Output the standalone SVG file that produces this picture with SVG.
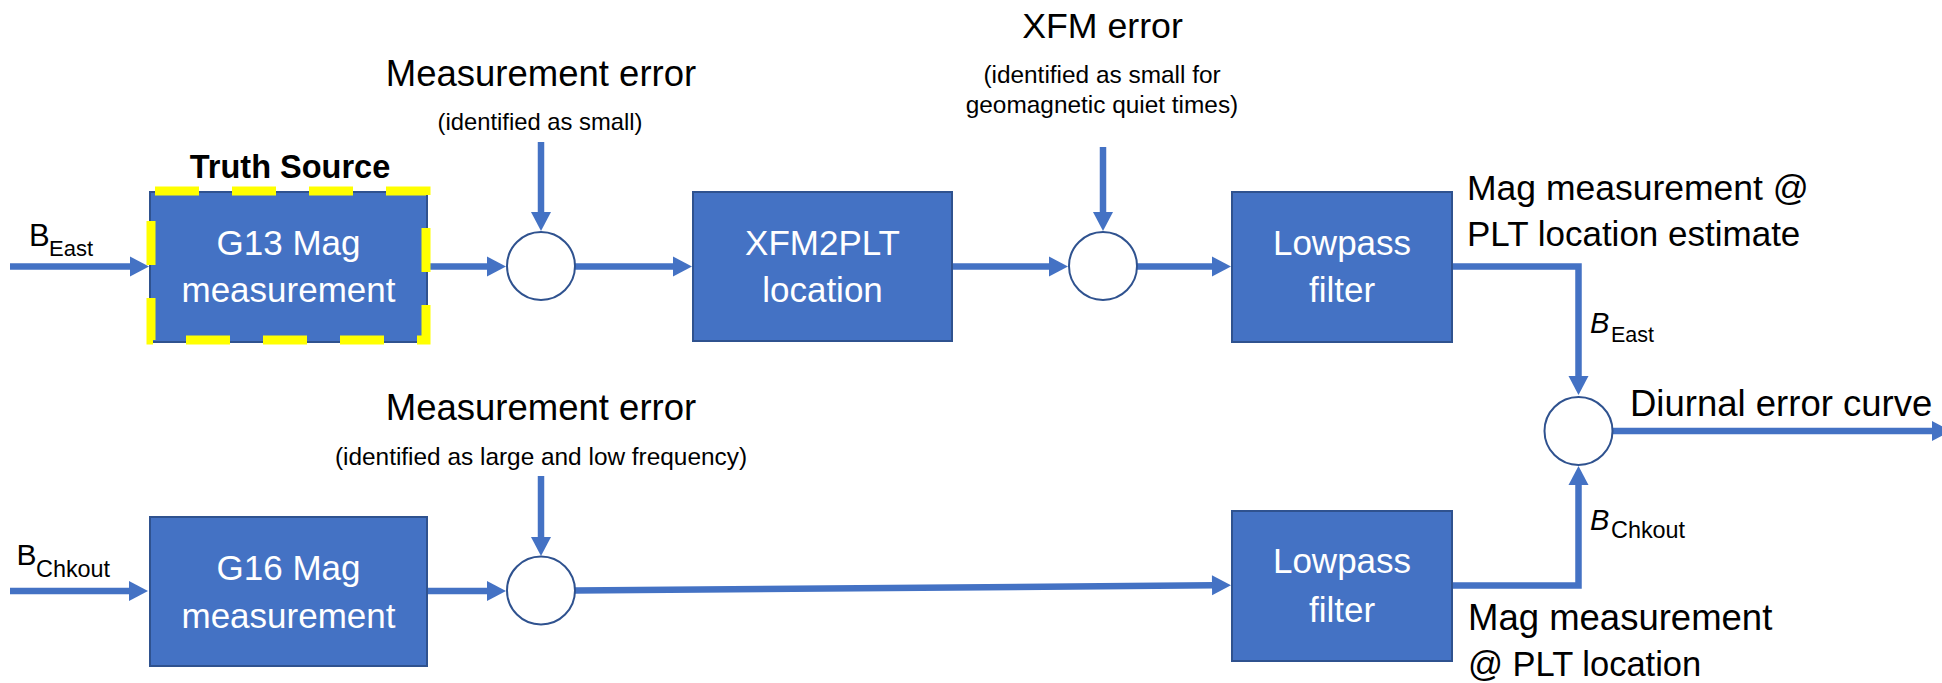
<svg xmlns="http://www.w3.org/2000/svg" width="1942" height="683" viewBox="0 0 1942 683">
<style>
text{font-family:"Liberation Sans",Arial,sans-serif;fill:#000}
.box{fill:#4472C4;stroke:#2F528F;stroke-width:2}
.sum{fill:#fff;stroke:#2F528F;stroke-width:2}
.bt{fill:#fff;font-size:35px;text-anchor:middle}
.ln{fill:none;stroke:#4472C4;stroke-width:6.5}
.big{font-size:36.5px}
.sm{font-size:24.4px;text-anchor:middle}
.c{text-anchor:middle}
</style>
<defs>
<marker id="ah" markerUnits="userSpaceOnUse" markerWidth="20" markerHeight="20" refX="1" refY="10" orient="auto" overflow="visible">
<path d="M0,0 L19,10 L0,20 Z" fill="#4472C4"/>
</marker>
</defs>

<g id="connectors">
<path class="ln" d="M10,266.5 H131" marker-end="url(#ah)"/>
<path class="ln" d="M427,266.5 H488" marker-end="url(#ah)"/>
<path class="ln" d="M541,142 V213" marker-end="url(#ah)"/>
<path class="ln" d="M575,266.5 H674" marker-end="url(#ah)"/>
<path class="ln" d="M952,266.5 H1050" marker-end="url(#ah)"/>
<path class="ln" d="M1103,147 V213" marker-end="url(#ah)"/>
<path class="ln" d="M1137,266.5 H1213" marker-end="url(#ah)"/>
<path class="ln" d="M1452,266.5 H1578.5 V377" marker-end="url(#ah)"/>
<path class="ln" d="M1452,585.5 H1578.5 V484" marker-end="url(#ah)"/>
<path class="ln" d="M1612,431 H1933" marker-end="url(#ah)"/>
<path class="ln" d="M10,591 H130" marker-end="url(#ah)"/>
<path class="ln" d="M427,591 H488" marker-end="url(#ah)"/>
<path class="ln" d="M541,476 V538" marker-end="url(#ah)"/>
<path class="ln" d="M575,590.5 L1213,585.3" marker-end="url(#ah)"/>
</g>

<g id="g13">
<rect class="box" x="150" y="192" width="277" height="150"/>
<rect x="151" y="191" width="275" height="149" fill="none" stroke="#FFFF00" stroke-width="9" stroke-dasharray="44 33" stroke-dashoffset="-4"/>
<text class="bt" x="288.5" y="255">G13 Mag</text>
<text class="bt" x="288.5" y="302">measurement</text>
</g>
<g id="truth-label">
<text x="290" y="178" font-size="32.5" font-weight="bold" class="c">Truth Source</text>
</g>

<g id="sum1"><circle class="sum" cx="541" cy="266" r="34"/></g>
<g id="meas-err-1">
<text class="big c" x="541" y="86">Measurement error</text>
<text class="sm" x="540" y="130" style="font-size:23.8px">(identified as small)</text>
</g>

<g id="xfm2plt">
<rect class="box" x="693" y="192" width="259" height="149"/>
<text class="bt" x="822.5" y="255">XFM2PLT</text>
<text class="bt" x="822.5" y="302">location</text>
</g>

<g id="sum2"><circle class="sum" cx="1103" cy="266" r="34"/></g>
<g id="xfm-err">
<text class="c" x="1102.5" y="38" font-size="35.7">XFM error</text>
<text class="sm" x="1102" y="83">(identified as small for</text>
<text class="sm" x="1102" y="113">geomagnetic quiet times)</text>
</g>

<g id="lowpass1">
<rect class="box" x="1232" y="192" width="220" height="150"/>
<text class="bt" x="1342" y="255">Lowpass</text>
<text class="bt" x="1342" y="302">filter</text>
</g>
<g id="label-est">
<text x="1467" y="200" font-size="35.5">Mag measurement @</text>
<text x="1467" y="246" font-size="35">PLT location estimate</text>
</g>
<g id="label-beast-r">
<text x="1590" y="333" font-size="29" font-style="italic">B</text>
<text x="1611" y="342" font-size="21.5">East</text>
</g>

<g id="sum3"><circle class="sum" cx="1578.5" cy="431" r="34"/></g>
<g id="diurnal"><text x="1630" y="416" class="big">Diurnal error curve</text></g>

<g id="label-bchk-r">
<text x="1590" y="530" font-size="29" font-style="italic">B</text>
<text x="1611" y="537.5" font-size="23.4">Chkout</text>
</g>

<g id="label-beast-in">
<text x="29" y="246" font-size="31">B</text>
<text x="49" y="256" font-size="22">East</text>
</g>

<g id="g16">
<rect class="box" x="150" y="517" width="277" height="149"/>
<text class="bt" x="288.5" y="580">G16 Mag</text>
<text class="bt" x="288.5" y="628">measurement</text>
</g>
<g id="label-bchk-in">
<text x="16.5" y="565" font-size="30">B</text>
<text x="36" y="576.7" font-size="23.4">Chkout</text>
</g>

<g id="sum4"><circle class="sum" cx="541" cy="590.5" r="34"/></g>
<g id="meas-err-2">
<text class="big c" x="541" y="420">Measurement error</text>
<text class="sm" x="541" y="465">(identified as large and low frequency)</text>
</g>

<g id="lowpass2">
<rect class="box" x="1232" y="511" width="220" height="150"/>
<text class="bt" x="1342" y="573">Lowpass</text>
<text class="bt" x="1342" y="621.5">filter</text>
</g>
<g id="label-plt">
<text x="1468" y="630" font-size="36.5">Mag measurement</text>
<text x="1468" y="676" font-size="34.5">@ PLT location</text>
</g>
</svg>
